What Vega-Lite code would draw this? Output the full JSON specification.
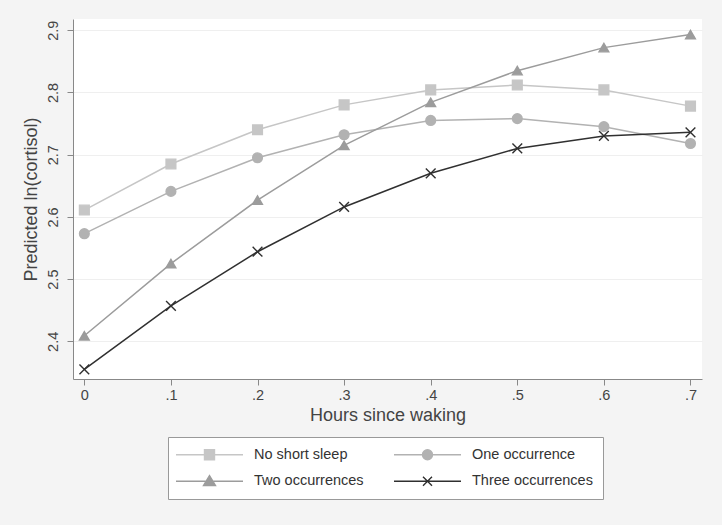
{
  "$schema": "https://vega.github.io/schema/vega-lite/v6.json",
  "autosize": {"type": "none"},
  "width": 629,
  "height": 360,
  "padding": {"left": 73, "top": 19, "right": 20, "bottom": 146},
  "background": "#f4f4f4",
  "config": {
    "font": "Liberation Sans",
    "view": {"fill": "white", "stroke": null},
    "axis": {
      "labelFont": "Liberation Sans",
      "titleFont": "Liberation Sans",
      "labelFontSize": 14.5,
      "titleFontSize": 18,
      "titleFontWeight": "normal",
      "labelColor": "#444444",
      "titleColor": "#444444",
      "domainColor": "#888888",
      "tickColor": "#888888",
      "tickSize": 6,
      "gridColor": "#efefef",
      "gridWidth": 1
    },
    "legend": {
      "labelFont": "Liberation Sans",
      "labelFontSize": 14.5,
      "labelColor": "#333333"
    }
  },
  "data": {
    "values": [
      {"h": 0.0, "series": "No short sleep", "y": 2.611},
      {"h": 0.1, "series": "No short sleep", "y": 2.685},
      {"h": 0.2, "series": "No short sleep", "y": 2.740},
      {"h": 0.3, "series": "No short sleep", "y": 2.780},
      {"h": 0.4, "series": "No short sleep", "y": 2.804},
      {"h": 0.5, "series": "No short sleep", "y": 2.812},
      {"h": 0.6, "series": "No short sleep", "y": 2.804},
      {"h": 0.7, "series": "No short sleep", "y": 2.778},
      {"h": 0.0, "series": "One occurrence", "y": 2.573},
      {"h": 0.1, "series": "One occurrence", "y": 2.641},
      {"h": 0.2, "series": "One occurrence", "y": 2.695},
      {"h": 0.3, "series": "One occurrence", "y": 2.732},
      {"h": 0.4, "series": "One occurrence", "y": 2.755},
      {"h": 0.5, "series": "One occurrence", "y": 2.758},
      {"h": 0.6, "series": "One occurrence", "y": 2.745},
      {"h": 0.7, "series": "One occurrence", "y": 2.718},
      {"h": 0.0, "series": "Two occurrences", "y": 2.409},
      {"h": 0.1, "series": "Two occurrences", "y": 2.525},
      {"h": 0.2, "series": "Two occurrences", "y": 2.627},
      {"h": 0.3, "series": "Two occurrences", "y": 2.715},
      {"h": 0.4, "series": "Two occurrences", "y": 2.784},
      {"h": 0.5, "series": "Two occurrences", "y": 2.835},
      {"h": 0.6, "series": "Two occurrences", "y": 2.872},
      {"h": 0.7, "series": "Two occurrences", "y": 2.893},
      {"h": 0.0, "series": "Three occurrences", "y": 2.355},
      {"h": 0.1, "series": "Three occurrences", "y": 2.457},
      {"h": 0.2, "series": "Three occurrences", "y": 2.544},
      {"h": 0.3, "series": "Three occurrences", "y": 2.616},
      {"h": 0.4, "series": "Three occurrences", "y": 2.670},
      {"h": 0.5, "series": "Three occurrences", "y": 2.710},
      {"h": 0.6, "series": "Three occurrences", "y": 2.730},
      {"h": 0.7, "series": "Three occurrences", "y": 2.736}
    ]
  },
  "encoding": {
    "x": {
      "field": "h",
      "type": "quantitative",
      "scale": {"domain": [-0.0131, 0.7133], "nice": false, "zero": false},
      "axis": {
        "title": "Hours since waking",
        "values": [0, 0.1, 0.2, 0.3, 0.4, 0.5, 0.6, 0.7],
        "labelExpr": "datum.value == 0 ? '0' : replace(format(datum.value, '.1f'), '0.', '.')",
        "grid": false,
        "labelPadding": 3,
        "titlePadding": 5
      }
    },
    "y": {
      "field": "y",
      "type": "quantitative",
      "scale": {"domain": [2.3395, 2.918], "nice": false, "zero": false},
      "axis": {
        "title": "Predicted ln(cortisol)",
        "values": [2.4, 2.5, 2.6, 2.7, 2.8, 2.9],
        "format": ".1f",
        "labelAngle": -90,
        "labelPadding": 7,
        "titlePadding": 5,
        "grid": true
      }
    }
  },
  "layer": [
    {
      "mark": {"type": "line", "strokeWidth": 1.5},
      "encoding": {
        "color": {
          "field": "series",
          "type": "nominal",
          "scale": {
            "domain": ["No short sleep", "One occurrence", "Two occurrences", "Three occurrences"],
            "range": ["#c6c6c6", "#b2b2b2", "#9c9c9c", "#303030"]
          },
          "legend": {
            "title": null,
            "orient": "none",
            "legendX": 95,
            "legendY": 418,
            "direction": "horizontal",
            "columns": 2,
            "columnPadding": 27,
            "rowPadding": 9,
            "padding": 10,
            "fillColor": "white",
            "strokeColor": "#999999",
            "symbolSize": 100,
            "symbolOffset": 24.25,
            "labelOffset": 37.25,
            "symbolStrokeWidth": 1.4,
            "encode": {
              "symbols": {
                "update": {
                  "shape": {"signal": "['M-6.7,0H6.7M-1,-1H1V1H-1Z', 'M-6.7,0H6.7M1,0A1,1,0,1,1,-1,0A1,1,0,1,1,1,0Z', 'M-6.7,0H6.7M0,-1.15L1.2,0.85L-1.2,0.85Z', 'M-6.7,0H6.7M-0.9,-0.9L0.9,0.9M-0.9,0.9L0.9,-0.9'][indexof(['No short sleep', 'One occurrence', 'Two occurrences', 'Three occurrences'], datum.value)]"},
                  "fill": {"signal": "scale('color', datum.value)"},
                  "stroke": {"signal": "scale('color', datum.value)"}
                }
              }
            }
          }
        }
      }
    },
    {
      "mark": {"type": "point", "filled": true, "opacity": 1, "strokeWidth": 1.4},
      "encoding": {
        "color": {"field": "series", "type": "nominal", "legend": null},
        "stroke": {
          "field": "series",
          "type": "nominal",
          "scale": {
            "range": ["#c6c6c6", "#b2b2b2", "#303030", "#9c9c9c"]
          },
          "legend": null
        },
        "shape": {
          "field": "series",
          "type": "nominal",
          "scale": {
            "range": ["square", "circle", "M-1,-1L1,1M-1,1L1,-1", "triangle-up"]
          },
          "legend": null
        },
        "size": {"value": 95}
      }
    }
  ]
}
